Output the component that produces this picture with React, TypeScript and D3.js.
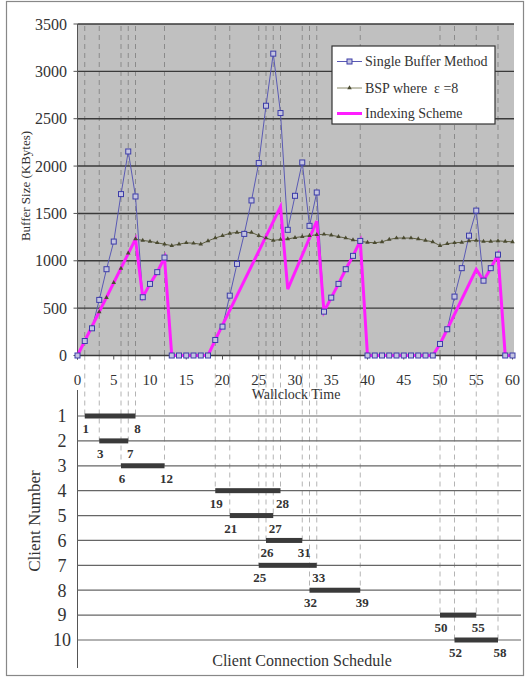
import * as d3 from "d3";

// Buffer size (KBytes) at each second of wallclock time, 0..60
const singleBuffer = [
  0, 153, 287, 587, 911, 1203, 1704, 2154, 1679, 615, 756, 880, 1034,
  0, 0, 0, 0, 0, 0,
  164, 305, 632, 967, 1284, 1637, 2032, 2637, 3187, 2560,
  1327, 1686, 2038, 1369, 1721, 463, 611, 756, 911, 1052, 1210,
  0, 0, 0, 0, 0, 0, 0, 0, 0, 0,
  122, 277, 622, 922, 1265, 1530, 790, 922, 1065,
  0, 0,
];

const bspValues = [
  0, 150, 300, 460, 610, 770, 920, 1080, 1230, 1215, 1205, 1190, 1175,
  1160, 1175, 1190, 1185, 1175, 1210, 1240, 1265, 1290, 1300, 1295, 1300,
  1265, 1240, 1215, 1225, 1230, 1245, 1255, 1265, 1275, 1280, 1270, 1255,
  1240, 1220, 1205, 1195, 1190, 1200, 1225, 1240, 1240, 1240, 1230, 1215,
  1200, 1160, 1180, 1190, 1195, 1210, 1215, 1205, 1205, 1210, 1205, 1200,
];

// indexing scheme: corner points of the line
const indexTimes = [0, 8, 9, 10, 11, 12, 13, 18, 19, 28, 29, 33, 34, 35, 36, 37, 38, 39, 40, 49, 50, 51, 55, 56, 57, 58, 59, 60];
const indexValues = [0, 1230, 615, 756, 880, 1034, 0, 0, 164, 1570, 700, 1420, 463, 611, 756, 911, 1052, 1210, 0, 0, 122, 277, 910, 790, 922, 1065, 0, 0];

const yTicks = [0, 500, 1000, 1500, 2000, 2500, 3000, 3500];
const xTicks = [0, 5, 10, 15, 20, 25, 30, 35, 40, 45, 50, 55, 60];

// client connection schedule
const clients = [1, 2, 3, 4, 5, 6, 7, 8, 9, 10];
const starts = [1, 3, 6, 19, 21, 26, 25, 32, 50, 52];
const ends = [8, 7, 12, 28, 27, 31, 33, 39, 55, 58];

const serif = "'Liberation Serif', 'Times New Roman', serif";

export default function App() {
  const W = 527;
  const H = 679;
  const x = d3.scaleLinear().domain([0, 60]).range([77.5, 512.5]);
  const y = d3.scaleLinear().domain([0, 3500]).range([355.5, 24]);
  const row = d3.scaleLinear().domain([1, 10]).range([416, 640]);
  const plotRight = 514;

  const blueLine = d3.line<number>().x((d, i) => x(i)).y((d) => y(d))(singleBuffer) || "";
  const bspLine = d3.line<number>().x((d, i) => x(i)).y((d) => y(d))(bspValues) || "";
  const idxLine =
    d3.line<number>().x((d, i) => x(indexTimes[i])).y((d) => y(d))(indexValues) || "";

  const tri = d3.symbol().type(d3.symbolTriangle).size(9)() || "";

  const events: { t: number; c: number }[] = [];
  clients.forEach((c, i) => {
    events.push({ t: starts[i], c });
    events.push({ t: ends[i], c });
  });

  return (
    <svg width={W} height={H} style={{ position: "absolute", left: 0, top: 0, background: "#fff" }}>
      <rect x={6.5} y={1.5} width={517} height={674} fill="#fff" stroke="#888" strokeWidth={1.2} />

      {/* plot background */}
      <rect x={x(0)} y={y(3500)} width={plotRight - x(0)} height={y(0) - y(3500)} fill="#c0c0c0" />

      {/* dashed event lines */}
      {events.map((e, i) => (
        <g key={"ev" + i}>
          <line x1={x(e.t)} x2={x(e.t)} y1={y(3500) + 2} y2={y(0)} stroke="#8a8a8a" strokeWidth={1} strokeDasharray="5,4" />
          <line x1={x(e.t)} x2={x(e.t)} y1={y(0)} y2={row(e.c)} stroke="#b4b4b4" strokeWidth={1} strokeDasharray="5,4" />
        </g>
      ))}

      {/* gridlines */}
      {yTicks.map((t) => (
        <line key={"g" + t} x1={x(0)} x2={plotRight} y1={y(t)} y2={y(t)} stroke="#3a3a3a" strokeWidth={1.4} />
      ))}
      <line x1={x(0)} x2={x(0)} y1={y(3500)} y2={y(0) + 4} stroke="#555" strokeWidth={1} />
      {yTicks.map((t) => (
        <line key={"yt" + t} x1={x(0) - 4} x2={x(0)} y1={y(t)} y2={y(t)} stroke="#555" />
      ))}
      {xTicks.map((t) => (
        <line key={"xt" + t} x1={x(t)} x2={x(t)} y1={y(0)} y2={y(0) + 4} stroke="#555" />
      ))}

      {/* series */}
      <path d={bspLine} fill="none" stroke="#5e5e40" strokeWidth={1} />
      <path d={blueLine} fill="none" stroke="#5a5ab4" strokeWidth={1} />
      <path d={idxLine} fill="none" stroke="#ff1eff" strokeWidth={3} strokeLinejoin="miter" />
      {bspValues.map((v, i) => (
        <path key={"bm" + i} d={tri} transform={`translate(${x(i)},${y(v)})`} fill="#4a4a30" />
      ))}
      {singleBuffer.map((v, i) => (
        <rect key={"sq" + i} x={x(i) - 2.5} y={y(v) - 2.5} width={5} height={5} fill="#c4c4e0" stroke="#3c3ca8" strokeWidth={1} />
      ))}

      {/* axis labels */}
      {yTicks.map((t) => (
        <text key={"yl" + t} x={67} y={y(t)} dy="0.35em" textAnchor="end" fontFamily={serif} fontSize={16} fill="#333">
          {t}
        </text>
      ))}
      {xTicks.map((t) => (
        <text key={"xl" + t} x={x(t)} y={385} textAnchor="middle" fontFamily={serif} fontSize={15} fill="#333">
          {t}
        </text>
      ))}
      <text x={296} y={399} textAnchor="middle" fontFamily={serif} fontSize={14} fill="#333">
        Wallclock Time
      </text>
      <text transform="translate(30,186) rotate(-90)" textAnchor="middle" fontFamily={serif} fontSize={13} fill="#333">
        Buffer Size (KBytes)
      </text>

      {/* legend */}
      <rect x={332} y={46} width={163} height={78} fill="#fff" stroke="#333" strokeWidth={1.2} />
      <line x1={337} x2={362} y1={61.5} y2={61.5} stroke="#5a5ab4" strokeWidth={1} />
      <rect x={347} y={59} width={5} height={5} fill="#c4c4e0" stroke="#3c3ca8" />
      <line x1={337} x2={362} y1={88} y2={88} stroke="#8a8a6a" strokeWidth={1} />
      <path d={tri} transform="translate(349.5,88)" fill="#4a4a30" />
      <line x1={337} x2={362} y1={113.5} y2={113.5} stroke="#ff1eff" strokeWidth={3} />
      {["Single Buffer Method", "BSP where  ε =8", "Indexing Scheme"].map((s, i) => (
        <text key={s} x={365} y={[61.5, 88, 113.5][i]} dy="0.35em" fontFamily={serif} fontSize={14} fill="#333" style={{ whiteSpace: "pre" }}>
          {s}
        </text>
      ))}

      {/* client connection schedule */}
      <line x1={77.5} x2={77.5} y1={390} y2={668} stroke="#555" strokeWidth={1} />
      {clients.map((c, i) => (
        <g key={"c" + c}>
          <line x1={77.5} x2={521} y1={row(c)} y2={row(c)} stroke="#666" strokeWidth={1.2} />
          <rect x={x(starts[i])} y={row(c) - 2.5} width={x(ends[i]) - x(starts[i])} height={5} fill="#3a3a3a" />
          <text x={62} y={row(c)} dy="0.35em" textAnchor="middle" fontFamily={serif} fontSize={18} fill="#333">
            {c}
          </text>
          <text x={x(starts[i]) + 1} y={row(c) + 17} textAnchor="middle" fontFamily={serif} fontSize={13} fontWeight="bold" fill="#333">
            {starts[i]}
          </text>
          <text x={x(ends[i]) + 2} y={row(c) + 17} textAnchor="middle" fontFamily={serif} fontSize={13} fontWeight="bold" fill="#333">
            {ends[i]}
          </text>
        </g>
      ))}
      <text transform="translate(40,521) rotate(-90)" textAnchor="middle" fontFamily={serif} fontSize={17} fill="#333">
        Client Number
      </text>
      <text x={302} y={666} textAnchor="middle" fontFamily={serif} fontSize={16} fill="#333">
        Client Connection Schedule
      </text>
    </svg>
  );
}
